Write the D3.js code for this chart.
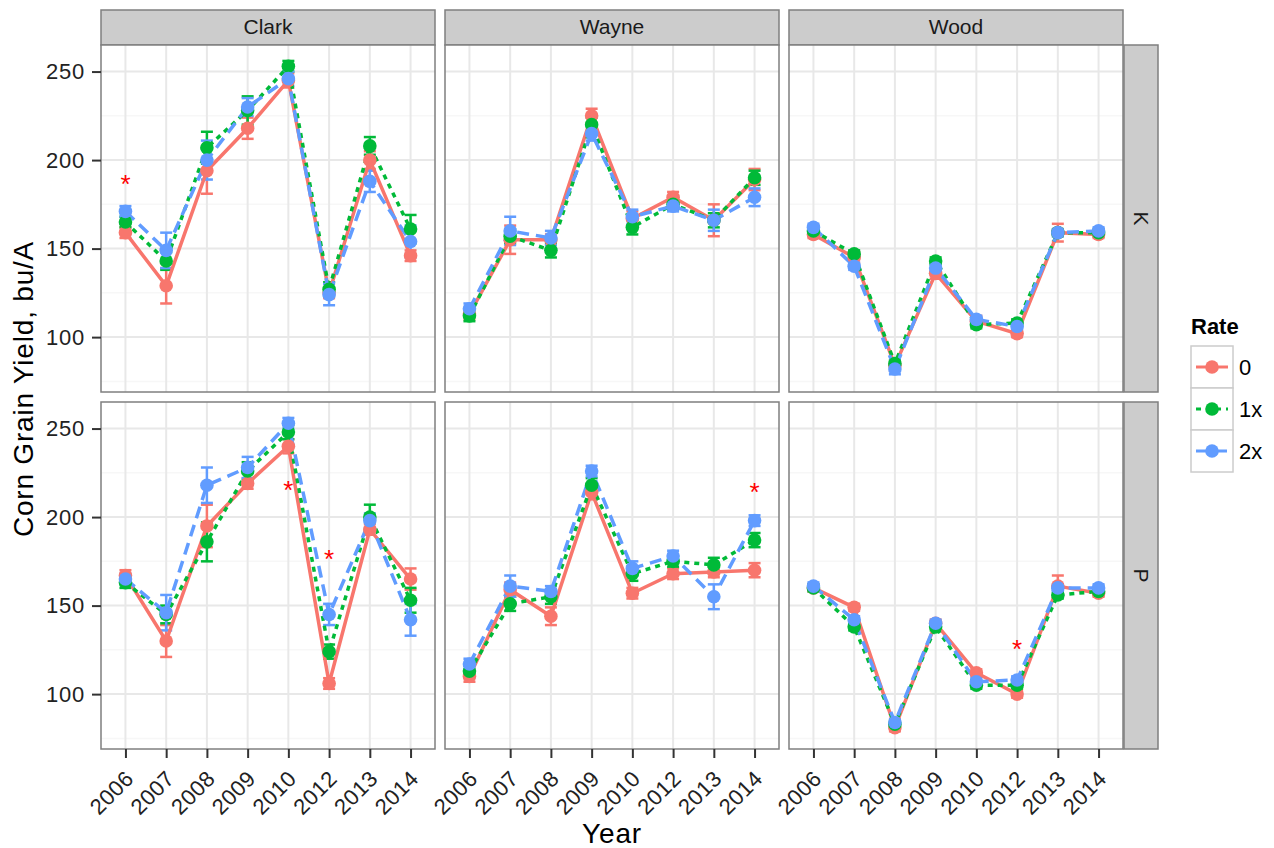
<!DOCTYPE html>
<html lang="en"><head>
<meta charset="utf-8">
<title>Corn Grain Yield</title>
<script src="https://d3js.org/d3.v7.min.js"></script>
<style>
  body { margin: 0; background: #fff; }
  text { font-family: "Liberation Sans", Arial, sans-serif; }
</style>
</head>
<body>
<div id="chart"></div>
<script>
// categories
const years = ["2006", "2007", "2008", "2009", "2010", "2012", "2013", "2014"];
const counties = ["Clark", "Wayne", "Wood"];
const nutrients = ["K", "P"];
const rates = ["0", "1x", "2x"];
const yTicks = [100, 150, 200, 250];
const yMinor = [75, 125, 175, 225];

// mean yield per rate (rows: 0, 1x, 2x)
const clarkK = [
  [159, 129, 194, 218, 245, 125, 200, 146],
  [165, 143, 207, 228, 253, 127, 208, 161],
  [171, 149, 200, 230, 246, 124, 188, 154]
];
const clarkP = [
  [167, 130, 195, 219, 240, 106, 193, 165],
  [163, 145, 186, 226, 248, 124, 200, 153],
  [165, 146, 218, 228, 253, 145, 198, 142]
];
const wayneK = [
  [113, 155, 155, 225, 167, 179, 166, 189],
  [112, 157, 149, 220, 162, 175, 166, 190],
  [116, 160, 156, 215, 168, 174, 166, 179]
];
const wayneP = [
  [110, 159, 144, 214, 157, 168, 169, 170],
  [113, 151, 155, 218, 168, 175, 173, 187],
  [117, 161, 158, 226, 171, 178, 155, 198]
];
const woodK = [
  [158, 145, 84, 136, 109, 102, 159, 158],
  [160, 147, 85, 143, 107, 108, 159, 159],
  [162, 140, 82, 139, 110, 106, 159, 160]
];
const woodP = [
  [160, 149, 81, 140, 112, 100, 161, 157],
  [160, 138, 83, 138, 105, 105, 156, 158],
  [161, 142, 84, 140, 107, 108, 160, 160]
];

// standard errors
const clarkKse = [
  [3, 10, 13, 6, 4, 3, 5, 3],
  [3, 5, 9, 8, 3, 4, 5, 8],
  [3, 10, 11, 5, 4, 6, 6, 9]
];
const clarkPse = [
  [3, 9, 12, 3, 4, 3, 3, 6],
  [3, 5, 11, 5, 4, 4, 7, 7],
  [3, 10, 10, 6, 3, 6, 4, 9]
];
const wayneKse = [
  [3, 8, 3, 4, 4, 3, 9, 6],
  [3, 4, 4, 4, 4, 3, 4, 4],
  [3, 8, 4, 4, 4, 3, 6, 5]
];
const waynePse = [
  [3, 4, 5, 4, 3, 3, 3, 4],
  [3, 4, 4, 4, 4, 3, 4, 4],
  [3, 6, 3, 3, 4, 3, 7, 3]
];
const woodKse = [
  [2, 3, 3, 3, 3, 2, 5, 2],
  [2, 2, 2, 2, 2, 2, 2, 2],
  [2, 2, 3, 2, 2, 2, 2, 2]
];
const woodPse = [
  [2, 2, 2, 2, 2, 2, 6, 2],
  [2, 2, 2, 2, 2, 2, 2, 2],
  [2, 2, 2, 2, 2, 2, 2, 2]
];

// significance marks
const stars = [
  {county: "Clark", nutrient: "K", year: "2006", value: 188},
  {county: "Clark", nutrient: "P", year: "2010", value: 217},
  {county: "Clark", nutrient: "P", year: "2012", value: 178},
  {county: "Wayne", nutrient: "P", year: "2014", value: 216},
  {county: "Wood", nutrient: "P", year: "2012", value: 127}
];

const yields = {Clark: {K: clarkK, P: clarkP}, Wayne: {K: wayneK, P: wayneP}, Wood: {K: woodK, P: woodP}};
const errors = {Clark: {K: clarkKse, P: clarkPse}, Wayne: {K: wayneKse, P: waynePse}, Wood: {K: woodKse, P: woodPse}};

const colors = ["#F8766D", "#00BA38", "#619CFF"];
const dashes = [null, "5,5", "12,7"];

const W = 1274, H = 848;
const panelW = 334, panelH = 347, gapX = 10, gapY = 10;
const panelLeft = 101, panelTop = 45;

const svg = d3.select("#chart").append("svg")
  .attr("width", W).attr("height", H);

const x = d3.scalePoint().domain(years).range([0, panelW]).padding(0.6);
const y = d3.scaleLinear().domain([69, 265]).range([panelH, 0]);

counties.forEach((county, ci) => {
  const px = panelLeft + ci * (panelW + gapX);

  // top strip
  svg.append("rect")
    .attr("x", px).attr("y", 10).attr("width", panelW).attr("height", panelTop - 10)
    .attr("fill", "#CCCCCC").attr("stroke", "#7F7F7F").attr("stroke-width", 1.5);
  svg.append("text")
    .attr("x", px + panelW / 2).attr("y", 34)
    .attr("text-anchor", "middle").attr("font-size", 21).attr("fill", "#1a1a1a")
    .text(county);

  nutrients.forEach((nut, ni) => {
    const py = panelTop + ni * (panelH + gapY);
    const g = svg.append("g").attr("transform", `translate(${px},${py})`);

    g.append("rect").attr("width", panelW).attr("height", panelH).attr("fill", "#fff");

    g.selectAll(".minor").data(yMinor).join("line")
      .attr("x1", 0).attr("x2", panelW)
      .attr("y1", d => y(d)).attr("y2", d => y(d))
      .attr("stroke", "#F7F7F7").attr("stroke-width", 1.5);
    g.selectAll(".hmajor").data(yTicks).join("line")
      .attr("x1", 0).attr("x2", panelW)
      .attr("y1", d => y(d)).attr("y2", d => y(d))
      .attr("stroke", "#E8E8E8").attr("stroke-width", 2);
    g.selectAll(".vmajor").data(years).join("line")
      .attr("x1", d => x(d)).attr("x2", d => x(d))
      .attr("y1", 0).attr("y2", panelH)
      .attr("stroke", "#E8E8E8").attr("stroke-width", 2);

    const vals = yields[county][nut];
    const errs = errors[county][nut];

    // error bars
    rates.forEach((r, ri) => {
      const pts = years.map((yr, i) => ({yr, v: vals[ri][i], e: errs[ri][i]}));
      const eb = g.append("g").attr("stroke", colors[ri]).attr("stroke-width", 2.5);
      eb.selectAll("line.v").data(pts).join("line")
        .attr("x1", d => x(d.yr)).attr("x2", d => x(d.yr))
        .attr("y1", d => y(d.v - d.e)).attr("y2", d => y(d.v + d.e));
      eb.selectAll("line.t").data(pts).join("line")
        .attr("x1", d => x(d.yr) - 6).attr("x2", d => x(d.yr) + 6)
        .attr("y1", d => y(d.v + d.e)).attr("y2", d => y(d.v + d.e));
      eb.selectAll("line.b").data(pts).join("line")
        .attr("x1", d => x(d.yr) - 6).attr("x2", d => x(d.yr) + 6)
        .attr("y1", d => y(d.v - d.e)).attr("y2", d => y(d.v - d.e));
    });

    // lines
    const line = d3.line().x((d, i) => x(years[i])).y(d => y(d));
    rates.forEach((r, ri) => {
      g.append("path").datum(vals[ri])
        .attr("d", line).attr("fill", "none")
        .attr("stroke", colors[ri]).attr("stroke-width", 3.5)
        .attr("stroke-dasharray", dashes[ri]);
    });

    // points
    rates.forEach((r, ri) => {
      g.selectAll(null).data(vals[ri]).join("circle")
        .attr("cx", (d, i) => x(years[i])).attr("cy", d => y(d))
        .attr("r", 6.8).attr("fill", colors[ri]);
    });

    // stars
    g.selectAll(null).data(stars.filter(s => s.county === county && s.nutrient === nut))
      .join("text")
      .attr("x", d => x(d.year)).attr("y", d => y(d.value) + 12)
      .attr("text-anchor", "middle").attr("font-size", 26).attr("fill", "#FF0000")
      .text("*");

    g.append("rect").attr("width", panelW).attr("height", panelH)
      .attr("fill", "none").attr("stroke", "#7F7F7F").attr("stroke-width", 1.5);

    // y axis on left column
    if (ci === 0) {
      const ax = g.append("g").call(d3.axisLeft(y).tickValues(yTicks).tickSize(9).tickPadding(7));
      ax.select(".domain").remove();
      ax.selectAll(".tick line").attr("stroke", "#333").attr("stroke-width", 2);
      ax.selectAll(".tick text").attr("font-size", 22).attr("fill", "#222")
        .attr("letter-spacing", 0.8)
        .attr("font-family", "Liberation Sans, Arial, sans-serif");
    }
    // x axis on bottom row
    if (ni === 1) {
      const ax = g.append("g").attr("transform", `translate(0,${panelH})`)
        .call(d3.axisBottom(x).tickSize(9));
      ax.select(".domain").remove();
      ax.selectAll(".tick line").attr("stroke", "#333").attr("stroke-width", 2);
      ax.selectAll(".tick text").attr("font-size", 22).attr("fill", "#222")
        .attr("font-family", "Liberation Sans, Arial, sans-serif")
        .attr("letter-spacing", 0.5)
        .attr("text-anchor", "end")
        .attr("x", 0).attr("y", 0).attr("dy", 0)
        .attr("transform", "translate(9,31) rotate(-45)");
    }

    // right strip
    if (ci === counties.length - 1) {
      const sx = px + panelW + 1;
      svg.append("rect")
        .attr("x", sx).attr("y", py).attr("width", 34).attr("height", panelH)
        .attr("fill", "#CCCCCC").attr("stroke", "#7F7F7F").attr("stroke-width", 1.5);
      svg.append("text")
        .attr("transform", `translate(${sx + 10},${py + panelH / 2}) rotate(90)`)
        .attr("text-anchor", "middle").attr("font-size", 21).attr("fill", "#1a1a1a")
        .text(nut);
    }
  });
});

// axis titles
svg.append("text")
  .attr("x", panelLeft + (3 * panelW + 2 * gapX) / 2).attr("y", 843)
  .attr("text-anchor", "middle").attr("font-size", 28).attr("fill", "#000")
  .attr("letter-spacing", 0.8)
  .text("Year");
svg.append("text")
  .attr("transform", `translate(33,${panelTop + panelH + gapY / 2 - 8}) rotate(-90)`)
  .attr("text-anchor", "middle").attr("font-size", 28).attr("fill", "#000")
  .attr("letter-spacing", 0.8)
  .text("Corn Grain Yield, bu/A");

// legend
const lg = svg.append("g").attr("transform", "translate(1191,300)");
lg.append("text").attr("x", 0).attr("y", 34)
  .attr("font-size", 22).attr("font-weight", "bold").attr("fill", "#000")
  .text("Rate");
rates.forEach((r, ri) => {
  const ky = 46 + ri * 42;
  lg.append("rect").attr("x", 0).attr("y", ky).attr("width", 42).attr("height", 42)
    .attr("fill", "#fff").attr("stroke", "#CCCCCC").attr("stroke-width", 1.5);
  lg.append("line").attr("x1", 5).attr("x2", 37).attr("y1", ky + 21).attr("y2", ky + 21)
    .attr("stroke", colors[ri]).attr("stroke-width", 3)
    .attr("stroke-dasharray", dashes[ri]);
  lg.append("circle").attr("cx", 21).attr("cy", ky + 21).attr("r", 6.8).attr("fill", colors[ri]);
  lg.append("text").attr("x", 48).attr("y", ky + 29)
    .attr("font-size", 22).attr("fill", "#000").text(r);
});
</script>
</body>
</html>
